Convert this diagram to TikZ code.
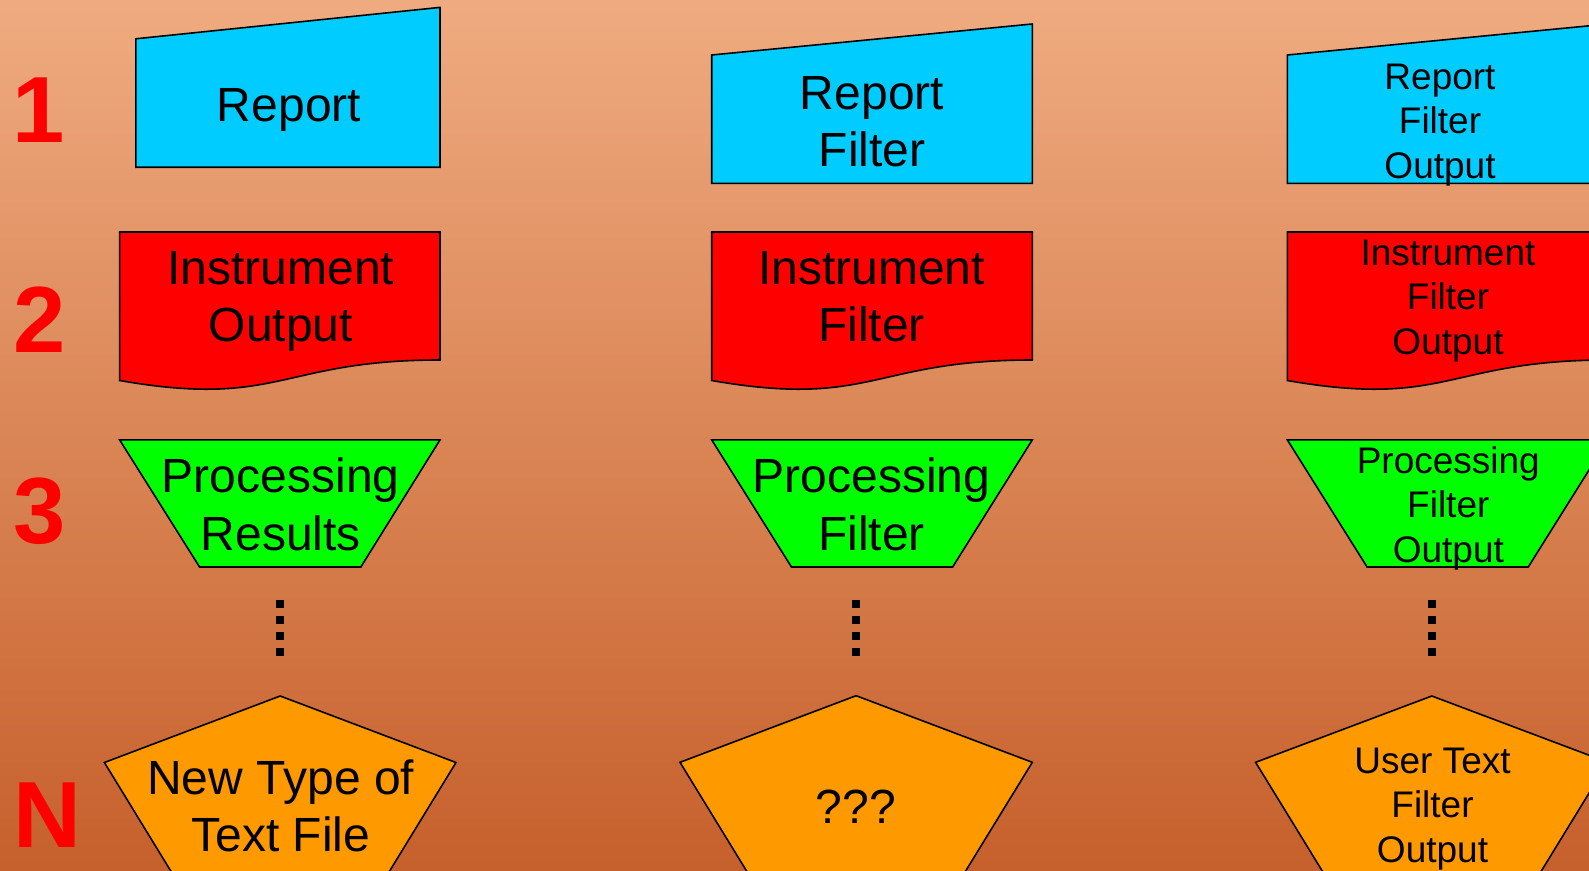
\documentclass[tikz,border=0pt]{standalone}
\usepackage{fontspec}
\setmainfont{Liberation Sans}
\definecolor{bgtop}{RGB}{239,171,128}
\definecolor{bgbot}{RGB}{198,96,44}
\definecolor{cyanf}{RGB}{0,204,255}
\definecolor{redf}{RGB}{255,0,0}
\definecolor{greenf}{RGB}{0,255,0}
\definecolor{orangef}{RGB}{255,153,0}
\newcommand{\mlines}[1]{\begin{tabular}[t]{@{}c@{}}#1\end{tabular}}
\begin{document}
\begin{tikzpicture}[x=1pt,y=-1pt,
  shp/.style={draw=black,line width=1.6pt,line join=miter},
  big/.style={font=\fontsize{48}{57.6}\selectfont,inner sep=0pt,anchor=base},
  small/.style={font=\fontsize{37}{44.6}\selectfont,inner sep=0pt,anchor=base},
  rowlab/.style={font=\fontsize{94}{110}\selectfont\bfseries,text=redf,inner sep=0pt,anchor=base west},
  dotsq/.style={fill=black}]
\useasboundingbox (0,0) rectangle (1589,870);
\shade[top color=bgtop,bottom color=bgbot] (0,0) rectangle (1589,870);
\clip (0,0) rectangle (1589,870);

% row labels
\node[rowlab] (l1) at (12,142.7) {1};
\node[rowlab] (l2) at (13,352) {2};
\node[rowlab] (l3) at (13,543) {3};
\node[rowlab] (lN) at (13.5,847) {N};

% ---------- column 1 ----------
\draw[shp,fill=cyanf] (135.8,38.8) -- (440,7.4) -- (440,167.2) -- (135.8,167.2) -- cycle;
\node[big] (c1r1) at (289,121.8) {\mlines{Report}};

\draw[shp,fill=redf] (119.6,232) -- (440,232) -- (440,360)
  .. controls (279.8,360) and (279.8,408.5) .. (119.6,380.5) -- cycle;
\node[big] (c1r2) at (280.7,284) {\mlines{Instrument\\Output}};

\draw[shp,fill=greenf] (119.6,439.8) -- (440,439.8) -- (360.8,567) -- (199.6,567) -- cycle;
\node[big] (c1r3) at (280.7,492.5) {\mlines{Processing\\Results}};

\foreach \yy in {604,620,636,652} \fill[dotsq] (276,\yy-4) rectangle (284,\yy+4);

\draw[shp,fill=orangef] (280.2,696) -- (456,762.5) -- (388.7,872.5) -- (171.7,872.5) -- (104.4,762.5) -- cycle;
\node[big] (c1rN) at (280.7,794) {\mlines{New Type of\\Text File}};

% ---------- column 2 ----------
\draw[shp,fill=cyanf] (711.7,55) -- (1032.3,24) -- (1032.3,183.3) -- (711.7,183.3) -- cycle;
\node[big] (c2r1) at (872,109) {\mlines{Report\\Filter}};

\draw[shp,fill=redf] (711.7,232) -- (1032.3,232) -- (1032.3,360)
  .. controls (872,360) and (872,408.5) .. (711.7,380.5) -- cycle;
\node[big] (c2r2) at (871.5,284) {\mlines{Instrument\\Filter}};

\draw[shp,fill=greenf] (711.7,439.8) -- (1032.3,439.8) -- (952.6,567) -- (791.5,567) -- cycle;
\node[big] (c2r3) at (871.5,492.5) {\mlines{Processing\\Filter}};

\foreach \yy in {604,620,636,652} \fill[dotsq] (852.3,\yy-4) rectangle (860.3,\yy+4);

\draw[shp,fill=orangef] (856.1,695.7) -- (1032.3,762.3) -- (964.7,872.5) -- (747.5,872.5) -- (680,762.3) -- cycle;
\node[big] (c2rN) at (856,823.3) {\mlines{???}};

% ---------- column 3 ----------
\draw[shp,fill=cyanf] (1287.3,55) -- (1607.9,24) -- (1607.9,183.3) -- (1287.3,183.3) -- cycle;
\node[small] (c3r1) at (1440,89.3) {\mlines{Report\\Filter\\Output}};

\draw[shp,fill=redf] (1287.3,232) -- (1607.9,232) -- (1607.9,360)
  .. controls (1447.6,360) and (1447.6,408.5) .. (1287.3,380.5) -- cycle;
\node[small] (c3r2) at (1448,265) {\mlines{Instrument\\Filter\\Output}};

\draw[shp,fill=greenf] (1287.3,439.8) -- (1607.9,439.8) -- (1528.2,567) -- (1367.1,567) -- cycle;
\node[small] (c3r3) at (1448.3,473.3) {\mlines{Processing\\Filter\\Output}};

\foreach \yy in {604,620,636,652} \fill[dotsq] (1428,\yy-4) rectangle (1436,\yy+4);

\draw[shp,fill=orangef] (1431.8,696) -- (1607.9,762.3) -- (1540.4,872.5) -- (1323.2,872.5) -- (1255.6,762.3) -- cycle;
\node[small] (c3rN) at (1432.5,773.3) {\mlines{User Text\\Filter\\Output}};
\end{tikzpicture}
\end{document}
